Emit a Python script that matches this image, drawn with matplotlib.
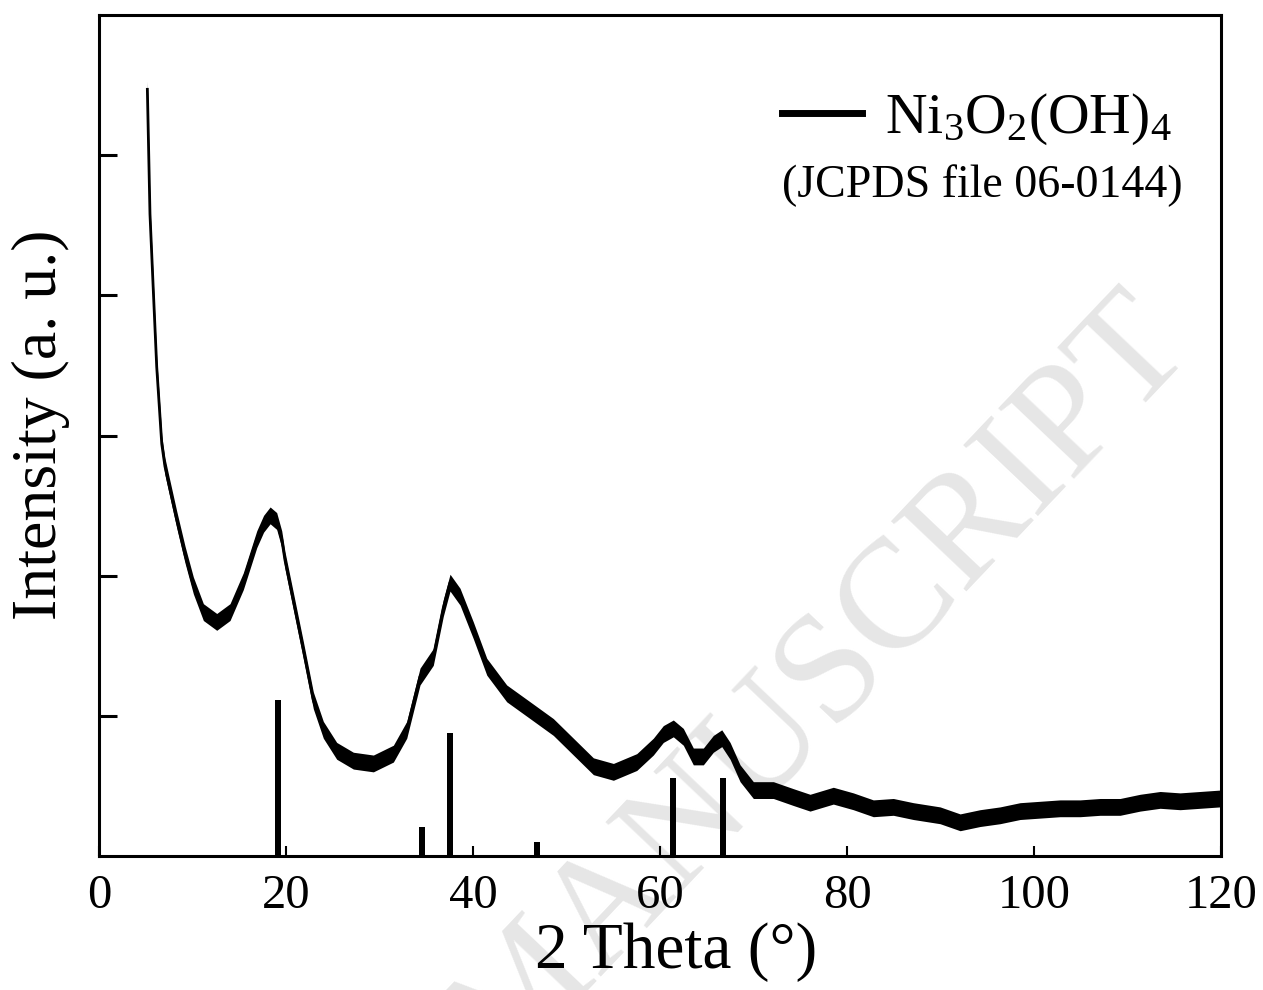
import numpy as np
import matplotlib
matplotlib.use("Agg")
import matplotlib.pyplot as plt
from matplotlib.lines import Line2D

plt.rcParams['font.family'] = ['Liberation Serif', 'DejaVu Serif']
plt.rcParams['mathtext.fontset'] = 'custom'
plt.rcParams['mathtext.rm'] = 'Liberation Serif'
plt.rcParams['mathtext.it'] = 'Liberation Serif:italic'

# XRD pattern (2 theta in degrees, intensity in a.u.)
two_theta = [5.17, 5.45, 5.81, 6.17, 6.71, 7.05, 7.41, 8.31, 9.20, 10.09, 11.16,
             12.59, 14.01, 15.43, 16.87, 17.6, 18.3, 19.0, 19.54, 19.89, 20.78, 21.85, 22.92,
             23.99, 25.42, 27.20, 29.34, 31.48, 32.91, 34.33, 35.75, 36.82, 37.54,
             38.61, 40.03, 41.47, 43.60, 46.10, 48.59, 50.73, 52.87, 55.01, 57.51,
             59.28, 60.35, 61.42, 62.49, 63.56, 64.63, 65.70, 66.60, 67.49, 68.56,
             69.98, 72.12, 74.26, 76.04, 78.53, 80.67, 82.81, 84.95, 87.09, 89.95,
             92.09, 94.22, 96.36, 98.50, 100.64, 102.78, 104.92, 107.06, 109.20, 111.34,
             113.48, 115.61, 117.75, 119.89]
intensity = [5.47, 4.58, 4.03, 3.49, 2.94, 2.78, 2.67, 2.40, 2.15, 1.93, 1.74,
             1.67, 1.74, 1.96, 2.26, 2.37, 2.43, 2.39, 2.26, 2.11, 1.82, 1.47, 1.11,
             0.90, 0.75, 0.68, 0.66, 0.73, 0.90, 1.28, 1.42, 1.77, 1.95,
             1.85, 1.61, 1.35, 1.16, 1.04, 0.92, 0.78, 0.64, 0.60, 0.67,
             0.78, 0.87, 0.91, 0.85, 0.71, 0.71, 0.80, 0.84, 0.75, 0.59,
             0.47, 0.47, 0.42, 0.38, 0.43, 0.39, 0.34, 0.35, 0.32, 0.29,
             0.24, 0.27, 0.29, 0.32, 0.33, 0.34, 0.34, 0.35, 0.35, 0.38,
             0.40, 0.39, 0.40, 0.41]
noise_half = 0.06  # half height of the noisy band

# JCPDS 06-0144 reference lines
ref_pos = [19.1, 34.5, 37.5, 46.8, 61.4, 66.7]
ref_height = [1.11, 0.21, 0.88, 0.10, 0.555, 0.555]

x = np.array(two_theta)
y = np.array(intensity)

fig = plt.figure(figsize=(12.63, 9.9), dpi=100)
ax = fig.add_axes([0.0784, 0.1354, 0.8884, 0.8494])
ax.patch.set_alpha(0)

fig.text(0.925, 0.672, "ACCEPTED MANUSCRIPT", rotation=46.5, rotation_mode='anchor',
         ha='right', va='center', fontsize=112, color='#e6e6e6', zorder=-1)

ax.fill_between(x, y - noise_half, y + noise_half, color='black', lw=0)
ax.plot(x, y, color='black', lw=2)
ax.bar(ref_pos, ref_height, width=0.65, color='black')

ax.set_xlim(0, 120)
ax.set_ylim(0, 6)
ax.set_xticks(np.arange(0, 121, 20))
ax.set_yticks([1, 2, 3, 4, 5])
ax.set_yticklabels([])
ax.tick_params(axis='x', direction='in', length=7, width=1.5, labelsize=35, pad=13)
ax.tick_params(axis='y', direction='in', length=13, width=2.2)
for s in ax.spines.values():
    s.set_linewidth(2.2)

ax.set_xlabel("2 Theta (°)", fontsize=47)
ax.set_ylabel("Intensity (a. u.)", fontsize=46)
ax.xaxis.set_label_coords(0.514, -0.079)
ax.yaxis.set_label_coords(-0.026, 0.5125)

handle = Line2D([], [], color='black', lw=5)
ax.legend([handle], ['Ni$_3$O$_2$(OH)$_4$'], loc='center left',
          bbox_to_anchor=(0.6087, 0.876), frameon=False, fontsize=41.5,
          handlelength=1.39, handletextpad=0.4, borderpad=0, borderaxespad=0)
ax.text(0.6087, 0.7836, "(JCPDS file 06-0144)", transform=ax.transAxes,
        ha='left', va='baseline', fontsize=33)

fig.savefig("out.png", dpi=100)
